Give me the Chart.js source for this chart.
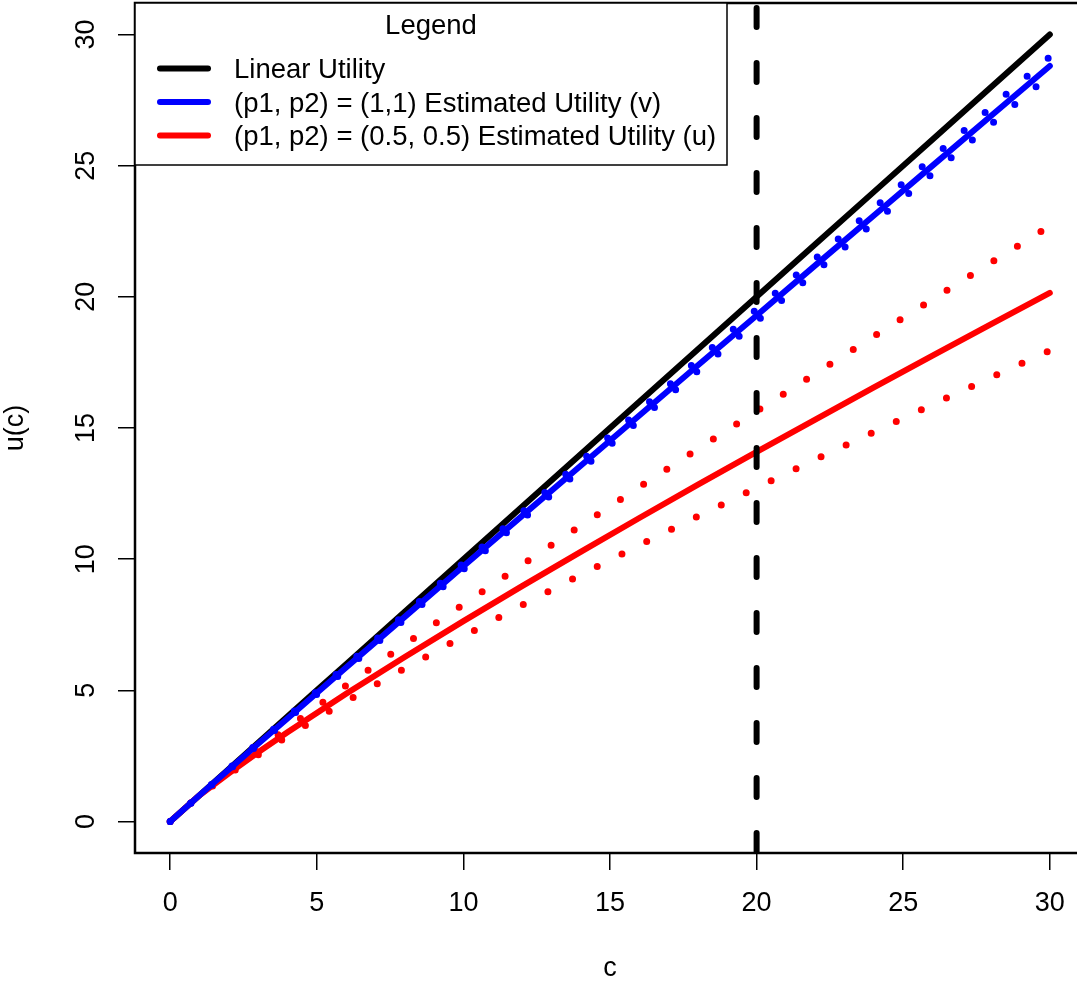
<!DOCTYPE html>
<html>
<head>
<meta charset="utf-8">
<script src="https://cdn.jsdelivr.net/npm/chart.js@4.4.1/dist/chart.umd.min.js"></script>
<style>
html, body { margin: 0; padding: 0; background: #fff; overflow: hidden; }
canvas { display: block; }
</style>
</head>
<body>
<canvas id="myChart" width="1092" height="984" style="width:1092px;height:984px"></canvas>
<script>
// consumption grid
var cVals   = [0, 1, 2, 3, 4, 5, 6, 8, 10, 12, 14, 16, 18, 20, 22, 24, 26, 28, 30];
var linearU = [0, 1, 2, 3, 4, 5, 6, 8, 10, 12, 14, 16, 18, 20, 22, 24, 26, 28, 30];
// (1,1) estimate and its band
var vEst   = [0, 1.00, 1.98, 2.96, 3.93, 4.90, 5.87, 7.80, 9.73, 11.65, 13.56, 15.48, 17.39, 19.29, 21.20, 23.10, 25.00, 26.90, 28.80];
var vUpper = [0, 1.01, 2.01, 3.00, 3.98, 4.96, 5.94, 7.90, 9.85, 11.79, 13.73, 15.66, 17.60, 19.53, 21.45, 23.38, 25.30, 27.23, 29.15];
var vLower = [0, 0.99, 1.96, 2.93, 3.89, 4.85, 5.80, 7.71, 9.61, 11.51, 13.40, 15.29, 17.18, 19.06, 20.94, 22.83, 24.70, 26.58, 28.45];
// (0.5,0.5) estimate and its band
var uEst   = [0, 1.00, 1.84, 2.64, 3.40, 4.14, 4.87, 6.27, 7.64, 8.97, 10.28, 11.57, 12.84, 14.09, 15.32, 16.55, 17.76, 18.96, 20.15];
var uUpper = [0, 1.00, 1.89, 2.74, 3.57, 4.38, 5.18, 6.75, 8.28, 9.79, 11.28, 12.75, 14.20, 15.64, 17.07, 18.50, 19.90, 21.31, 22.70];
var uLower = [0, 1.00, 1.80, 2.54, 3.25, 3.92, 4.58, 5.84, 7.06, 8.25, 9.40, 10.53, 11.64, 12.72, 13.80, 14.85, 15.90, 16.93, 17.95];
var cutoff = 20;

var xTicks = [0, 5, 10, 15, 20, 25, 30];
var yTicks = [0, 5, 10, 15, 20, 25, 30];
var seriesNames = ['Linear Utility', '(p1, p2) = (1,1) Estimated Utility (v)', '(p1, p2) = (0.5, 0.5) Estimated Utility (u)'];

var FONT = "'Liberation Sans', Arial, Helvetica, sans-serif";

function pts(ys) {
    var out = [];
    for (var i = 0; i < cVals.length; i++) out.push({ x: cVals[i], y: ys[i] });
    return out;
}

function solid(label, color, ys, ord) {
    return { label: label, data: pts(ys), borderColor: color, backgroundColor: color,
        borderWidth: 6, borderCapStyle: 'round', borderJoinStyle: 'round',
        pointRadius: 0, tension: 0, fill: false, order: ord };
}
function dotted(color, ys, ord) {
    return { label: '', data: pts(ys), borderColor: color, backgroundColor: color,
        borderWidth: 7, borderCapStyle: 'round', borderDash: [0, 27.7],
        pointRadius: 0, tension: 0, fill: false, order: ord };
}

// R style frame, rotated y tick labels and the boxed legend
var rStyle = {
    id: 'rStyle',
    afterDatasetsDraw: function (chart) {
        var ctx = chart.ctx, a = chart.chartArea;
        ctx.save();
        ctx.strokeStyle = '#000';
        ctx.lineWidth = 2.5;
        ctx.strokeRect(a.left, a.top, a.right - a.left, a.bottom - a.top);

        // y tick labels, reading upwards
        var ys = chart.scales.y;
        ctx.fillStyle = '#000';
        ctx.font = '27px ' + FONT;
        ctx.textAlign = 'center';
        ctx.textBaseline = 'middle';
        yTicks.forEach(function (v) {
            ctx.save();
            ctx.translate(87, ys.getPixelForValue(v));
            ctx.rotate(-Math.PI / 2);
            ctx.fillText(String(v), 0, 0);
            ctx.restore();
        });

        // legend box
        var lx = a.left, ly = a.top, lw = 592, lh = 162;
        ctx.fillStyle = '#fff';
        ctx.fillRect(lx, ly, lw, lh);
        ctx.lineWidth = 1.5;
        ctx.strokeRect(lx, ly, lw, lh);
        ctx.fillStyle = '#000';
        ctx.font = '27.5px ' + FONT;
        ctx.textBaseline = 'alphabetic';
        ctx.textAlign = 'center';
        ctx.fillText('Legend', lx + lw / 2, 34);
        ctx.textAlign = 'left';
        seriesNames.forEach(function (name, i) {
            var d = chart.data.datasets.find(function (ds) { return ds.label === name; });
            var base = 78 + i * 33.5;
            ctx.strokeStyle = d.borderColor;
            ctx.lineWidth = 6;
            ctx.lineCap = 'round';
            ctx.beginPath();
            ctx.moveTo(160, base - 9.5);
            ctx.lineTo(208, base - 9.5);
            ctx.stroke();
            ctx.fillStyle = '#000';
            ctx.fillText(name, 234, base);
        });
        ctx.restore();
    }
};

var config = {
    type: 'line',
    data: {
        datasets: [
            { label: '', data: [{ x: cutoff, y: 31.2 }, { x: cutoff, y: -1.2 }], borderColor: '#000',
              borderWidth: 6, borderCapStyle: 'round', borderDash: [19, 36], borderDashOffset: -5,
              pointRadius: 0, fill: false, order: 0 },
            dotted('#0000ff', vUpper, 1),
            dotted('#0000ff', vLower, 1),
            solid(seriesNames[1], '#0000ff', vEst, 2),
            dotted('#ff0000', uUpper, 3),
            dotted('#ff0000', uLower, 3),
            solid(seriesNames[2], '#ff0000', uEst, 4),
            solid(seriesNames[0], '#000000', linearU, 5)
        ]
    },
    options: {
        responsive: false,
        animation: false,
        devicePixelRatio: 1,
        layout: { padding: { top: 3, left: 0, right: 7, bottom: 0 } },
        plugins: { legend: { display: false }, tooltip: { enabled: false } },
        scales: {
            x: {
                type: 'linear', min: -1.2, max: 31.2,
                afterBuildTicks: function (s) { s.ticks = xTicks.map(function (v) { return { value: v }; }); },
                afterFit: function (s) { s.height = 131; },
                grid: { drawOnChartArea: false, drawTicks: true, tickLength: 17, color: '#000', lineWidth: 1.5 },
                border: { display: false },
                ticks: { color: '#000', font: { family: FONT, size: 27 }, padding: 17, maxRotation: 0, autoSkip: false },
                title: { display: true, text: 'c', color: '#000', font: { family: FONT, size: 27, lineHeight: 1 }, padding: { top: 0, bottom: 2 } }
            },
            y: {
                type: 'linear', min: -1.2, max: 31.2,
                afterBuildTicks: function (s) { s.ticks = yTicks.map(function (v) { return { value: v }; }); },
                afterFit: function (s) { s.width = 135; },
                grid: { drawOnChartArea: false, drawTicks: true, tickLength: 17, color: '#000', lineWidth: 1.5 },
                border: { display: false },
                ticks: { display: false },
                title: { display: true, text: 'u(c)', color: '#000', font: { family: FONT, size: 27, lineHeight: 1 }, padding: { top: 2, bottom: 0 } }
            }
        }
    },
    plugins: [rStyle]
};

var myChart = new Chart(document.getElementById('myChart'), config);
</script>
</body>
</html>
